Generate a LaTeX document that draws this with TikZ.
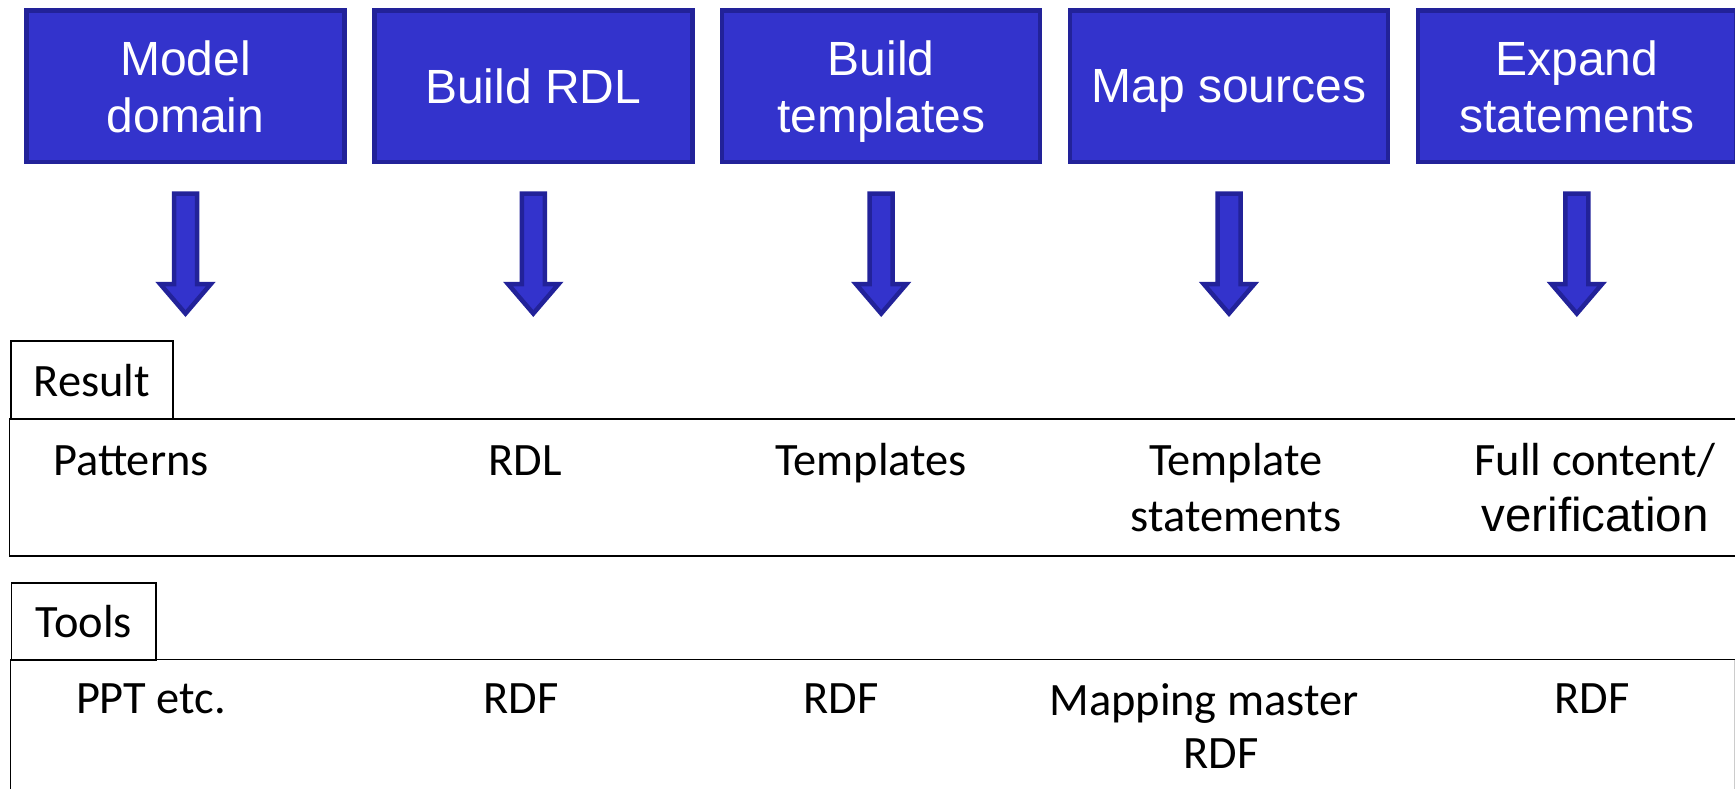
\documentclass[tikz,border=0pt]{standalone}
\usepackage{fontspec}
\usetikzlibrary{calc}
\setmainfont{Carlito}
\newfontfamily\arialfont{Liberation Sans}
\definecolor{stepfill}{HTML}{3333CC}
\definecolor{stepline}{HTML}{222299}

\tikzset{
  stepbox/.style={draw=stepline, fill=stepfill, line width=4.5pt,
    minimum width=318pt, minimum height=151.2pt, inner sep=0pt,
    text=white, align=center, text depth=0pt,
    font=\arialfont\fontsize{48}{57}\selectfont},
  blockarrow/.style={draw=stepline, fill=stepfill, line width=4.5pt, line join=miter},
  frame/.style={draw=black, line width=1.8pt},
  tab/.style={frame, inner sep=0pt, font=\fontsize{46.4}{56}\selectfont},
  cell/.style={inner sep=0pt, anchor=base, align=center,
    font=\fontsize{46.4}{56}\selectfont}
}

\begin{document}
\begin{tikzpicture}[x=1pt, y=-1pt]
\useasboundingbox (0,0) rectangle (1735,789);
\clip (0,0) rectangle (1735,789);

% process steps along the top
\foreach \n/\cx/\txt in {
    1/185.5/{Model\\domain},
    2/533.3/{Build RDL},
    3/881.2/{Build\\templates},
    4/1229.0/{Map sources},
    5/1576.8/{Expand\\statements}} {
  \node[stepbox] (step\n) at (\cx,86.2) {\txt};
  % block arrow pointing down from each step
  \coordinate (a\n) at ($(step\n.south)+(0,29.5)$);
  \draw[blockarrow] (a\n) ++(-11.5,0) -- ++(0,90.5) -- ++(-13.8,0)
    -- ($(a\n)+(0,120)$) -- ($(a\n)+(25.3,90.5)$) -- ++(-13.8,0)
    -- ++(0,-90.5) -- cycle;
}

% result band
\draw[frame] (1745,419.3) -- (9.5,419.3) -- (9.5,556) -- (1745,556);
\node[tab, minimum width=162pt, minimum height=78pt] (result) at (92,380.2) {Result};

% tools band
\draw[frame] (10.5,800) -- (10.5,659.5) -- (1745,659.5);
\draw[black!20, line width=1pt] (1734,659.5) -- (1734,800);
\node[tab, minimum width=144.5pt, minimum height=76.5pt] (tools) at (83.7,621.5) {Tools};

% results of each step (base anchor = baseline of the last line)
\node[cell] (pat)  at (131,475)  {Patterns};
\node[cell] (rdl)  at (525,475)  {RDL};
\node[cell] (tpl)  at (871,475)  {Templates};
\node[cell] (tst)  at (1236,531) {Template\\statements};
\node[cell] (full) at (1595,531.7) {Full content/\\{\arialfont\fontsize{47.5}{56}\selectfont verification}};

% tools for each step
\node[cell] (ppt)  at (151,713)  {PPT etc.};
\node[cell] (rdfa) at (521,713)  {RDF};
\node[cell] (rdfb) at (841,713)  {RDF};
\node[cell, font=\fontsize{46.4}{53}\selectfont] (mm) at (1204,768) {Mapping master\\\hspace*{34pt}RDF};
\node[cell] (rdfc) at (1592,713) {RDF};
\end{tikzpicture}
\end{document}
